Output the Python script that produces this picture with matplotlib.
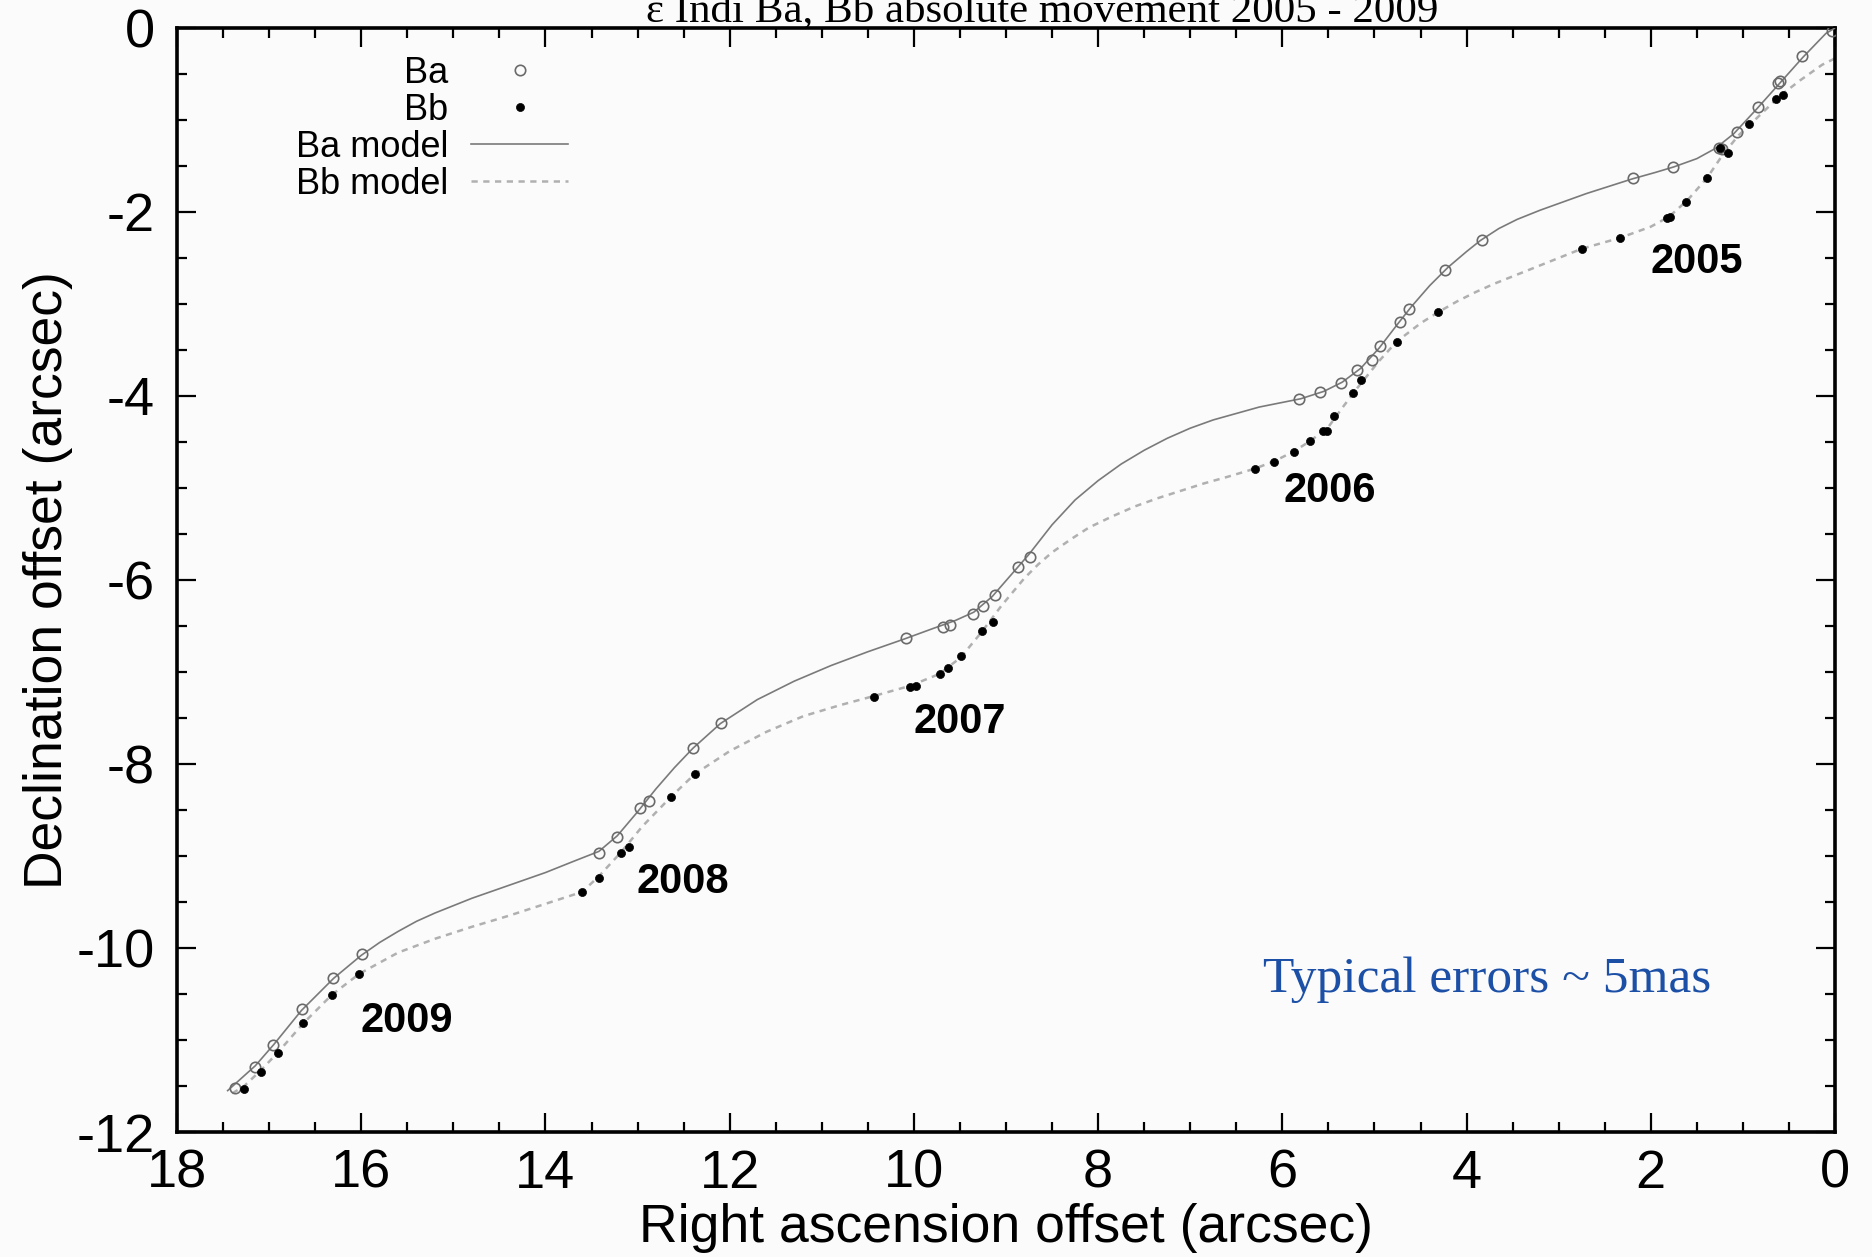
import matplotlib
matplotlib.use("Agg")
import matplotlib.pyplot as plt
from matplotlib.ticker import MultipleLocator

plt.rcParams['axes.unicode_minus'] = False
plt.rcParams['font.family'] = ['Liberation Sans', 'DejaVu Sans']

# measured positions (arcsec, offset from first epoch)
ba_ra = [17.37, 17.15, 16.96, 16.64, 16.31, 15.99,
         13.42, 13.22, 12.97, 12.88, 12.40, 12.09,
         10.09, 9.68, 9.61, 9.36, 9.25, 9.12, 8.87, 8.74,
         5.82, 5.59, 5.36, 5.19, 5.03, 4.94, 4.72, 4.62, 4.23, 3.83,
         2.19, 1.76, 1.26, 1.23, 1.06, 0.84, 0.62, 0.60, 0.36, 0.03]
ba_dec = [-11.52, -11.29, -11.05, -10.66, -10.33, -10.07,
          -8.97, -8.79, -8.48, -8.40, -7.83, -7.55,
          -6.63, -6.51, -6.49, -6.37, -6.28, -6.16, -5.86, -5.75,
          -4.03, -3.96, -3.86, -3.72, -3.61, -3.46, -3.20, -3.05, -2.63, -2.30,
          -1.63, -1.51, -1.30, -1.31, -1.13, -0.86, -0.60, -0.58, -0.30, -0.03]

bb_ra = [17.27, 17.09, 16.90, 16.63, 16.32, 16.02,
         13.60, 13.42, 13.18, 13.09, 12.64, 12.38,
         10.43, 10.04, 9.98, 9.72, 9.63, 9.49, 9.26, 9.14,
         6.30, 6.09, 5.87, 5.70, 5.56, 5.51, 5.44, 5.23, 5.15, 4.76, 4.31,
         2.75, 2.33, 1.82, 1.79, 1.62, 1.39, 1.25, 1.16, 0.93, 0.64, 0.56]
bb_dec = [-11.53, -11.35, -11.14, -10.82, -10.51, -10.28,
          -9.39, -9.24, -8.97, -8.90, -8.36, -8.11,
          -7.27, -7.16, -7.15, -7.02, -6.96, -6.83, -6.55, -6.46,
          -4.79, -4.72, -4.61, -4.49, -4.38, -4.38, -4.22, -3.97, -3.83, -3.41, -3.09,
          -2.40, -2.28, -2.07, -2.05, -1.89, -1.63, -1.30, -1.36, -1.04, -0.77, -0.73]

# fitted tracks
ba_model_ra = [17.45, 17.15, 16.95, 16.65, 16.3, 16.0, 15.8, 15.6, 15.4, 15.2,
               14.8, 14.4, 14.0, 13.7, 13.42, 13.22, 13.0, 12.8, 12.6, 12.4,
               12.1, 11.7, 11.3, 10.9, 10.5, 10.1, 9.8, 9.55, 9.35, 9.15,
               8.95, 8.75, 8.5, 8.25, 8.0, 7.75, 7.5, 7.25, 7.0, 6.75,
               6.5, 6.25, 6.0, 5.8, 5.55, 5.35, 5.15, 4.95, 4.75, 4.6,
               4.4, 4.2, 4.0, 3.85, 3.65, 3.45, 3.2, 2.95, 2.7, 2.45,
               2.2, 1.95, 1.75, 1.5, 1.3, 1.1, 0.85, 0.6, 0.35, 0.1, 0.0]
ba_model_dec = [-11.55, -11.28, -11.05, -10.68, -10.33, -10.08, -9.94, -9.82, -9.71, -9.62,
                -9.46, -9.32, -9.18, -9.06, -8.95, -8.78, -8.52, -8.27, -8.04, -7.83,
                -7.56, -7.30, -7.10, -6.93, -6.78, -6.64, -6.53, -6.44, -6.35, -6.18,
                -5.95, -5.72, -5.40, -5.13, -4.92, -4.74, -4.59, -4.46, -4.35, -4.26,
                -4.19, -4.12, -4.07, -4.03, -3.95, -3.85, -3.70, -3.48, -3.22, -3.03,
                -2.80, -2.60, -2.43, -2.31, -2.18, -2.08, -1.98, -1.89, -1.80, -1.72,
                -1.64, -1.57, -1.51, -1.42, -1.31, -1.15, -0.88, -0.60, -0.32, -0.06, 0.0]

bb_model_ra = [17.40, 17.27, 17.09, 16.90, 16.63, 16.32, 16.02, 15.6, 15.2, 14.8,
               14.4, 14.0, 13.6, 13.42, 13.18, 12.95, 12.64, 12.38, 12.0, 11.6,
               11.2, 10.8, 10.43, 10.04, 9.72, 9.49, 9.26, 9.05, 8.8, 8.65,
               8.5, 8.3, 8.1, 7.85, 7.6, 7.35, 7.1, 6.85, 6.6, 6.30,
               6.09, 5.87, 5.70, 5.51, 5.35, 5.2, 4.95, 4.76, 4.5, 4.31,
               4.1, 3.9, 3.7, 3.5, 3.25, 3.0, 2.75, 2.33, 2.0, 1.8,
               1.6, 1.39, 1.22, 1.05, 0.85, 0.6, 0.38, 0.14, 0.0]
bb_model_dec = [-11.58, -11.50, -11.33, -11.13, -10.82, -10.51, -10.28, -10.05, -9.90, -9.77,
                -9.65, -9.52, -9.39, -9.22, -8.96, -8.68, -8.36, -8.11, -7.86, -7.65,
                -7.48, -7.36, -7.26, -7.15, -7.02, -6.84, -6.56, -6.28, -5.98, -5.83,
                -5.70, -5.56, -5.43, -5.31, -5.20, -5.11, -5.03, -4.95, -4.88, -4.79,
                -4.71, -4.60, -4.49, -4.35, -4.13, -3.93, -3.62, -3.41, -3.21, -3.09,
                -2.97, -2.87, -2.78, -2.70, -2.60, -2.50, -2.40, -2.28, -2.16, -2.05,
                -1.87, -1.63, -1.38, -1.17, -0.98, -0.74, -0.57, -0.40, -0.33]

years = ['2005', '2006', '2007', '2008', '2009']
year_ra = [1.50, 5.48, 9.50, 12.51, 15.51]
year_dec = [-2.54, -5.03, -7.54, -9.28, -10.79]

fig = plt.figure(figsize=(18.72, 12.57), dpi=100, facecolor='#fbfbfb')
ax = fig.add_axes([0.09455, 0.09944, 0.8857, 0.8783])
ax.set_facecolor('#fbfbfb')

ax.plot(bb_model_ra, bb_model_dec, color='#b0b0b0', lw=1.8, dashes=(2.5, 2.2),
        label='Bb model', zorder=2)
ax.plot(ba_model_ra, ba_model_dec, color='#7a7a7a', lw=1.2,
        label='Ba model', zorder=3)
ax.plot(ba_ra, ba_dec, 'o', ms=7.5, mfc='none', mec='#6a6a6a', mew=1.2,
        label='Ba', zorder=4)
ax.plot(bb_ra, bb_dec, 'o', ms=5.8, mfc='black', mec='black', mew=0.5,
        label='Bb', zorder=5)

for yr, x, y in zip(years, year_ra, year_dec):
    ax.text(x, y, yr, ha='center', va='center', fontsize=30, fontweight='bold')

ax.text(6.21, -10.48, 'Typical errors ~ 5mas', color='#1c4fa6', fontsize=37,
        family=['Liberation Serif', 'DejaVu Serif'], va='baseline', ha='left')

ax.set_xlim(18, 0)
ax.set_ylim(-12, 0)
ax.xaxis.set_major_locator(MultipleLocator(2))
ax.xaxis.set_minor_locator(MultipleLocator(0.5))
ax.yaxis.set_major_locator(MultipleLocator(2))
ax.yaxis.set_minor_locator(MultipleLocator(0.5))
ax.tick_params(which='both', direction='in', top=True, right=True, width=1.6)
ax.tick_params(which='major', length=14, labelsize=39)
ax.tick_params(axis='x', which='major', pad=12)
ax.tick_params(axis='y', which='major', pad=16)
ax.tick_params(which='minor', length=7)
for s in ax.spines.values():
    s.set_linewidth(2.6)

ax.set_xlabel('Right ascension offset (arcsec)', fontsize=38.5)
ax.set_ylabel('Declination offset (arcsec)', fontsize=38.5)
ax.xaxis.set_label_coords(0.5, -0.064)
ax.yaxis.set_label_coords(-0.063, 0.5)

handles, labels = ax.get_legend_handles_labels()
order = [2, 3, 1, 0]
ax.legend([handles[i] for i in order], [labels[i] for i in order],
          loc='upper right', bbox_to_anchor=(0.236, 0.975), frameon=False,
          markerfirst=False, numpoints=1, fontsize=26, handlelength=2.7,
          handletextpad=0.62, labelspacing=0.06, borderpad=0, borderaxespad=0)

fig.text(1042 / 1872, 1 - 21 / 1257, '\u03b5 Indi Ba, Bb absolute movement 2005 - 2009',
         ha='center', va='baseline', fontsize=31,
         family=['Liberation Serif', 'DejaVu Serif'])

fig.savefig('out.png', dpi=100, facecolor=fig.get_facecolor())
